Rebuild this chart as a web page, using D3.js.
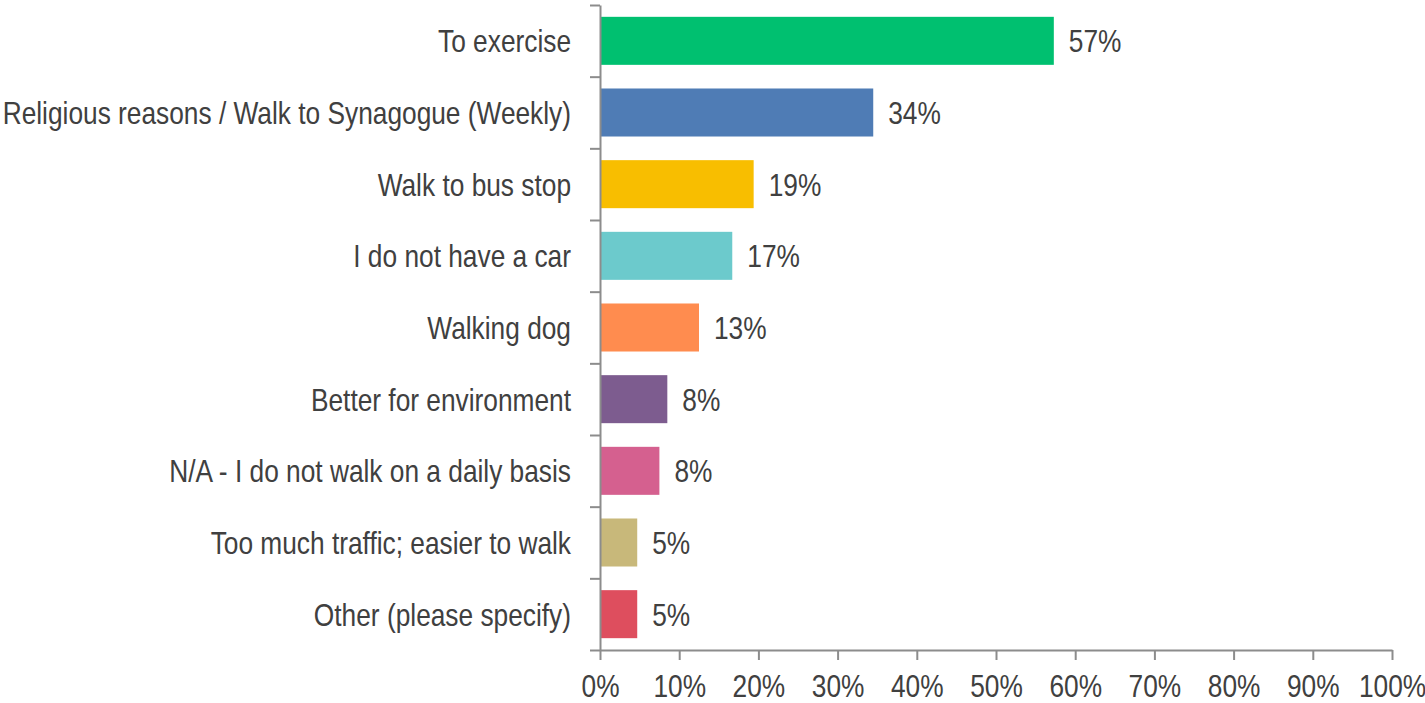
<!DOCTYPE html>
<html>
<head>
<meta charset="utf-8">
<script src="https://cdn.jsdelivr.net/npm/d3@7"></script>
<style>
  body { margin: 0; background: #fff; }
  text { font-family: "Liberation Sans", Arial, sans-serif; fill: #404040; }
</style>
</head>
<body>
<div id="chart"></div>
<script>
const categories = [
  "To exercise",
  "Religious reasons / Walk to Synagogue (Weekly)",
  "Walk to bus stop",
  "I do not have a car",
  "Walking dog",
  "Better for environment",
  "N/A - I do not walk on a daily basis",
  "Too much traffic; easier to walk",
  "Other (please specify)"
];
const values = [57.3, 34.5, 19.4, 16.7, 12.5, 8.5, 7.5, 4.7, 4.7];
const valueLabels = ["57%", "34%", "19%", "17%", "13%", "8%", "8%", "5%", "5%"];
const colors = ["#00c070", "#4f7cb5", "#f8be00", "#6ccacc", "#ff8c4f", "#7d5c8f", "#d5608f", "#c8b87a", "#de4e5e"];
const xTicks = [0, 10, 20, 30, 40, 50, 60, 70, 80, 90, 100];

const W = 1425, H = 703;
const margin = {top: 5, right: 33, bottom: 53, left: 600};
const width = W - margin.left - margin.right,
      height = H - margin.top - margin.bottom;

const fontSize = "31.5px";
const squeeze = 0.835; // no narrow font installed, so squash Liberation Sans

const svg = d3.select("#chart").append("svg")
    .attr("width", W)
    .attr("height", H)
  .append("g")
    .attr("transform", `translate(${margin.left},${margin.top})`);

const x = d3.scaleLinear().domain([0, 100]).range([0, width]);
const y = d3.scaleBand().domain(categories).range([0, height])
    .paddingInner(0.33).paddingOuter(0.165);
// boundaries between categories, for the y-axis ticks
const yEdges = d3.scaleLinear().domain([0, categories.length]).range([0, height]);

const axisColor = "#8c8c8c";

svg.selectAll(".bar")
    .data(categories)
  .enter().append("rect")
    .attr("class", "bar")
    .attr("x", x(0))
    .attr("y", d => y(d))
    .attr("width", (d, i) => x(values[i]) - x(0))
    .attr("height", y.bandwidth())
    .attr("fill", (d, i) => colors[i]);

svg.selectAll(".val")
    .data(categories)
  .enter().append("text")
    .attr("class", "val")
    .attr("transform", (d, i) => `translate(${x(values[i]) + 15},${y(d) + y.bandwidth() / 2}) scale(${squeeze},1)`)
    .attr("dy", "0.36em")
    .style("font-size", fontSize)
    .text((d, i) => valueLabels[i]);

svg.selectAll(".cat")
    .data(categories)
  .enter().append("text")
    .attr("class", "cat")
    .attr("transform", d => `translate(-29,${y(d) + y.bandwidth() / 2}) scale(${squeeze},1)`)
    .attr("dy", "0.36em")
    .attr("text-anchor", "end")
    .style("font-size", fontSize)
    .text(d => d);

const yAxis = svg.append("g")
    .call(d3.axisLeft(yEdges).tickValues(d3.range(categories.length + 1)).tickFormat("").tickSize(10).tickSizeOuter(0));
yAxis.selectAll("line").attr("stroke", axisColor).attr("stroke-width", 2);
yAxis.select(".domain").attr("stroke", axisColor).attr("stroke-width", 2);

const xAxis = svg.append("g")
    .attr("transform", `translate(0,${height})`)
    .call(d3.axisBottom(x).tickValues(xTicks).tickFormat(d => d + "%").tickSize(10).tickSizeOuter(0));
xAxis.attr("font-family", null).attr("font-size", null);
yAxis.attr("font-family", null).attr("font-size", null);
xAxis.selectAll("line").attr("stroke", axisColor).attr("stroke-width", 2);
xAxis.select(".domain").attr("stroke", axisColor).attr("stroke-width", 2);
xAxis.selectAll("text")
    .attr("y", 25)
    .attr("transform", `scale(${squeeze},1)`)
    .style("font-size", fontSize)
    .attr("fill", "#404040");
</script>
</body>
</html>
